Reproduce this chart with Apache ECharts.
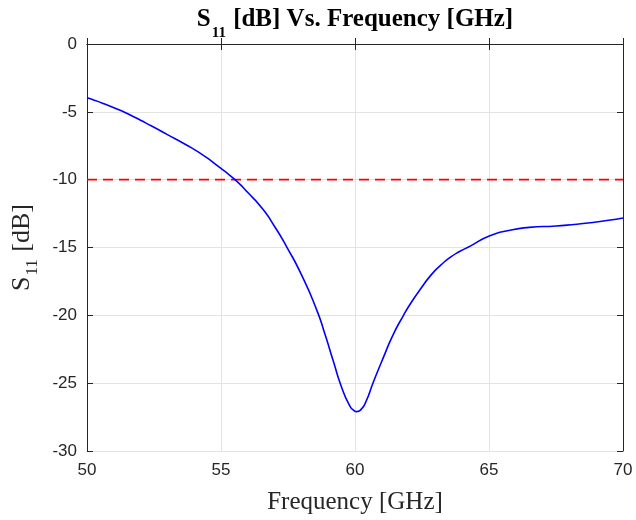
<!DOCTYPE html>
<html>
<head>
<meta charset="utf-8">
<script src="https://cdn.jsdelivr.net/npm/echarts@6/dist/echarts.min.js"></script>
<style>html,body{margin:0;padding:0;background:#fff}#c{width:636px;height:520px}</style>
</head>
<body>
<div id="c"></div>
<script>
// Data
const freq = [50, 50.6, 51.17, 51.8, 52.41, 53.0, 53.66, 54.3, 54.9, 55.52, 56.0, 56.55, 57.0, 57.45, 58.0, 58.57, 58.88, 59.19, 59.5, 59.81, 59.95, 60.06, 60.22, 60.4, 60.69, 61.06, 61.43, 61.81, 62.05, 62.43, 62.85, 63.2, 63.54, 63.9, 64.3, 65.01, 65.78, 66.5, 67.5, 68.8, 70];
const s11 = [-3.97, -4.38, -4.83, -5.42, -6.05, -6.68, -7.39, -8.15, -9.02, -10.0, -10.95, -12.15, -13.45, -14.95, -17.0, -19.6, -21.4, -23.37, -25.3, -26.7, -27.0, -27.1, -26.95, -26.4, -24.9, -23.1, -21.4, -20.0, -19.2, -18.1, -17.0, -16.3, -15.75, -15.3, -14.9, -14.15, -13.73, -13.52, -13.41, -13.17, -12.83];
const threshFreq = [50, 70];
const threshVal = [-10, -10];
const xTicks = [50, 55, 60, 65, 70];
const yTicks = [0, -5, -10, -15, -20, -25, -30];

const curve = freq.map((f, i) => [f, s11[i]]);
const thresh = threshFreq.map((f, i) => [f, threshVal[i]]);

const axisColor = '#262626';
const gridColor = '#e3e3e3';
const serif = 'Liberation Serif, Times New Roman, serif';
const tickFont = {fontFamily: 'Liberation Sans, Arial, sans-serif', fontSize: 17, color: axisColor};

const chart = echarts.init(document.getElementById('c'), null, {renderer: 'canvas'});
chart.setOption({
  animation: false,
  backgroundColor: '#fff',
  title: {
    text: '{b|S}{sub|11}{b| [dB] Vs. Frequency [GHz]}',
    left: 350, top: 2, textAlign: 'center',
    textStyle: {
      rich: {
        b: {fontFamily: serif, fontWeight: 'bold', fontSize: 25, color: '#000', verticalAlign: 'top', lineHeight: 28},
        sub: {fontFamily: serif, fontWeight: 'bold', fontSize: 15, color: '#000', verticalAlign: 'top', lineHeight: 15, padding: [19, 1, 0, 1]}
      }
    }
  },
  grid: {left: 87, right: 13, top: 44, bottom: 66, containLabel: false},
  xAxis: [{
    type: 'value', min: 50, max: 70, interval: 5,
    name: 'Frequency [GHz]', nameLocation: 'middle', nameGap: 39,
    nameTextStyle: {fontFamily: serif, fontSize: 25, color: axisColor},
    axisLine: {show: true, lineStyle: {color: axisColor, width: 1}},
    axisTick: {show: true, inside: true, length: 6, lineStyle: {color: axisColor}},
    axisLabel: Object.assign({margin: 11}, tickFont),
    splitLine: {show: true, lineStyle: {color: gridColor, width: 1}}
  }, {
    type: 'value', position: 'top', min: 50, max: 70, interval: 5,
    axisLine: {show: true, onZero: false, lineStyle: {color: axisColor, width: 1}},
    axisTick: {show: true, inside: true, length: 6, lineStyle: {color: axisColor}},
    axisLabel: {show: false}, splitLine: {show: false}
  }],
  yAxis: [{
    type: 'value', min: -30, max: 0, interval: 5,
    name: '{s|S}{sub|11}{s| [dB]}', nameLocation: 'middle', nameGap: 47, nameRotate: 90,
    nameTextStyle: {
      rich: {
        s: {fontFamily: serif, fontSize: 26, color: axisColor, verticalAlign: 'top', lineHeight: 28},
        sub: {fontFamily: serif, fontSize: 17, color: axisColor, verticalAlign: 'top', lineHeight: 17, padding: [15, 1, 0, 1]}
      }
    },
    axisLine: {show: true, onZero: false, lineStyle: {color: axisColor, width: 1}},
    axisTick: {show: true, inside: true, length: 6, lineStyle: {color: axisColor}},
    axisLabel: Object.assign({margin: 10}, tickFont),
    splitLine: {show: true, lineStyle: {color: gridColor, width: 1}}
  }, {
    type: 'value', position: 'right', min: -30, max: 0, interval: 5,
    axisLine: {show: true, onZero: false, lineStyle: {color: axisColor, width: 1}},
    axisTick: {show: true, inside: true, length: 6, lineStyle: {color: axisColor}},
    axisLabel: {show: false}, splitLine: {show: false}
  }],
  series: [{
    type: 'line', data: curve, showSymbol: false, smooth: 0.6,
    lineStyle: {color: '#0000ff', width: 1.6}, z: 3
  }, {
    type: 'line', data: thresh, showSymbol: false,
    lineStyle: {color: '#ff0000', width: 1.6, type: [10, 6]}, z: 2
  }]
});
</script>
</body>
</html>
